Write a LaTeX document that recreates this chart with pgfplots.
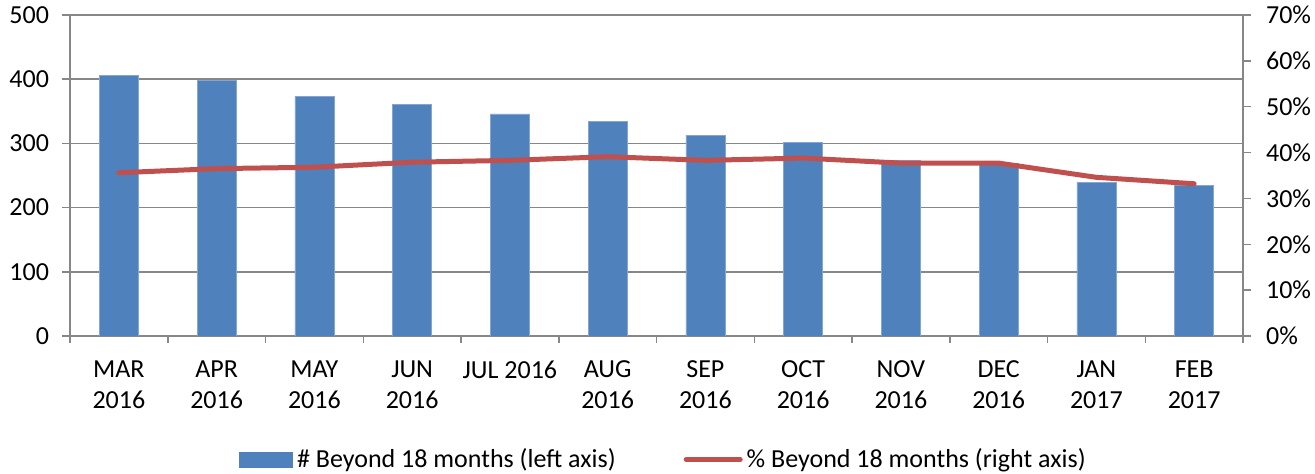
\documentclass[border=0pt]{standalone}
\usepackage{pgfplots}
\pgfplotsset{compat=1.18}
\usepackage{fontspec}
\setmainfont{Carlito}
\definecolor{barblue}{HTML}{4F81BD}
\definecolor{linered}{HTML}{C0504D}
\definecolor{gridgray}{HTML}{878787}
\begin{document}
\fontsize{13}{15.5}\selectfont
\begin{tikzpicture}
\pgfplotsset{
  common/.style={
    scale only axis,
    width=586.5pt, height=160.5pt,
    at={(0,0)}, anchor=south west,
    xmin=-0.5, xmax=11.5,
    axis line style={gridgray, line width=0.75pt},
    every tick/.style={gridgray, line width=0.75pt},
    tick align=outside,
    major tick length=4pt,
    ticklabel style={font=\fontsize{13}{15.5}\selectfont},
    /pgf/number format/assume math mode=true,
  }
}
\begin{axis}[common,
  ymin=0, ymax=500,
  ytick={0,100,...,500},
  axis x line*=bottom,
  axis y line*=left,
  ymajorgrids,
  grid style={gridgray, line width=0.75pt},
  xtick={0,...,11},
  major x tick style={draw=none},
  minor xtick={-0.5,0.5,...,11.5},
  minor x tick style={gridgray, line width=0.75pt},
  minor tick length=3.5pt,
  xticklabels={{MAR\\2016},{APR\\2016},{MAY\\2016},{JUN\\2016},{JUL 2016},{AUG\\2016},{SEP\\2016},{OCT\\2016},{NOV\\2016},{DEC\\2016},{JAN\\2017},{FEB\\2017}},
  xticklabel style={align=center, yshift=-4pt},
  yticklabel style={xshift=-2pt},
]
\addplot[ybar, bar width=0.4, fill=barblue, draw=barblue!70!white, line width=0.3pt, forget plot]
coordinates {(0,406) (1,397.5) (2,372.7) (3,361) (4,346) (5,334) (6,313) (7,301) (8,274) (9,268.5) (10,239.6) (11,234.5)};
\end{axis}
\begin{axis}[common,
  ymin=0, ymax=0.7,
  ytick={0,0.1,...,0.7},
  axis y line*=right,
  axis x line=none,
  yticklabel={\pgfmathparse{round(100*\tick)}\pgfmathprintnumber[fixed,precision=0]{\pgfmathresult}\%},
  yticklabel style={xshift=3pt},
  legend columns=2,
  legend style={draw=none, fill=none, at={(axis description cs:0.5,0)}, anchor=center, yshift=-61.75pt, xshift=4pt,
    font=\fontsize{13}{15.5}\selectfont, inner sep=0pt,
    /tikz/every even column/.append style={column sep=32pt}},
  legend cell align=left,
]
\addlegendimage{legend image code/.code={\fill[barblue] (0pt,-3.75pt) rectangle (26.5pt,3.75pt);}}
\addlegendentry{\# Beyond 18 months (left axis)}
\addplot[linered, line width=2.5pt, line join=round, line cap=round, mark=none,
  legend image code/.code={\draw[linered, line width=2.5pt, line cap=round] (0pt,0pt) -- (27pt,0pt);}]
coordinates {(0,0.356) (1,0.365) (2,0.368) (3,0.379) (4,0.383) (5,0.391) (6,0.383) (7,0.388) (8,0.377) (9,0.377) (10,0.346) (11,0.332)};
\addlegendentry{\% Beyond 18 months (right axis)}
\end{axis}
\pgfresetboundingbox
\useasboundingbox (-35pt,-69pt) rectangle (622.5pt,168pt);
\end{tikzpicture}
\end{document}
